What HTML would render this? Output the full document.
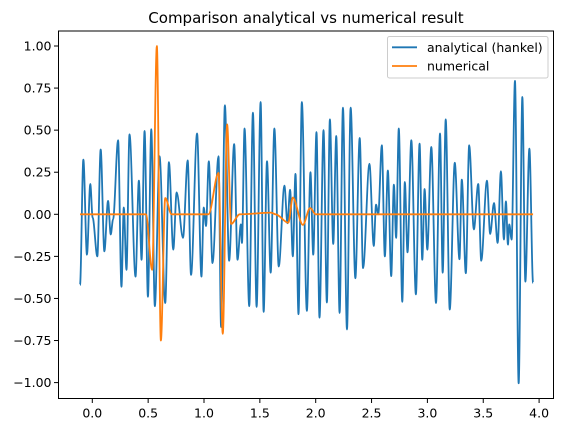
<!DOCTYPE html>
<html><head><meta charset="utf-8"><style>
html,body{margin:0;padding:0;background:#fff;}
svg{display:block;font-family:"DejaVu Sans","Liberation Sans",sans-serif;}
</style></head><body>
<svg id="chart" width="564" height="432" viewBox="0 0 564 432" xmlns="http://www.w3.org/2000/svg">
<rect x="0" y="0" width="564" height="432" fill="#fff"/>
<text x="306" y="23" font-size="15" text-anchor="middle" fill="#000">Comparison analytical vs numerical result</text>
<g id="plot"></g>
<g id="axes"></g>
</svg>
<script>
const xTicks = [0.0,0.5,1.0,1.5,2.0,2.5,3.0,3.5,4.0];
const xTickLabels = ["0.0","0.5","1.0","1.5","2.0","2.5","3.0","3.5","4.0"];
const yTicks = [1,0.75,0.5,0.25,0,-0.25,-0.5,-0.75,-1];
const yTickLabels = ["1.00","0.75","0.50","0.25","0.00","−0.25","−0.50","−0.75","−1.00"];
const analyticalX = [-0.11,-0.08,-0.048,-0.018,0.003,0.045,0.075,0.108,0.141,0.165,0.186,0.231,0.261,0.282,0.306,0.333,0.387,0.417,0.441,0.468,0.498,0.528,0.56,0.602,0.653,0.686,0.725,0.755,0.812,0.854,0.884,0.938,0.977,0.998,1.018,1.043,1.076,1.13,1.153,1.187,1.225,1.27,1.30,1.33,1.34,1.363,1.405,1.438,1.471,1.507,1.534,1.564,1.597,1.63,1.669,1.72,1.747,1.771,1.795,1.819,1.846,1.876,1.921,1.953,1.978,2.007,2.034,2.07,2.10,2.127,2.157,2.184,2.214,2.244,2.28,2.313,2.355,2.394,2.424,2.481,2.52,2.54,2.56,2.592,2.619,2.646,2.676,2.70,2.72,2.744,2.775,2.798,2.822,2.856,2.897,2.93,2.954,2.975,2.999,3.035,3.077,3.113,3.137,3.164,3.20,3.245,3.287,3.308,3.344,3.374,3.416,3.455,3.482,3.533,3.562,3.596,3.629,3.658,3.685,3.703,3.721,3.733,3.754,3.784,3.817,3.85,3.877,3.913,3.946];
const analyticalY = [-0.42,0.325,-0.24,0.18,-0.02,-0.25,0.385,-0.22,0.08,-0.12,-0.03,0.44,-0.43,0.04,-0.33,0.475,-0.37,0.2,-0.27,0.495,-0.49,0.505,-0.546,0.345,-0.527,0.31,-0.21,0.13,-0.14,0.32,-0.36,0.48,-0.37,0.04,-0.07,0.315,-0.29,0.345,-0.67,0.648,-0.276,0.417,-0.27,-0.06,-0.17,0.51,-0.546,0.604,-0.55,0.667,-0.58,0.315,-0.347,0.51,-0.31,0.17,-0.053,0.146,-0.25,0.24,-0.594,0.667,-0.574,0.25,-0.24,0.488,-0.614,0.5,-0.524,0.564,-0.176,0.465,-0.586,0.634,-0.684,0.634,-0.38,0.453,-0.32,0.3,-0.188,0.057,0.0,0.41,-0.25,0.26,-0.367,0.176,-0.14,0.51,-0.52,0.192,-0.226,0.44,-0.476,0.42,-0.27,0.15,-0.21,0.40,-0.527,0.48,-0.347,0.564,-0.566,0.306,-0.267,0.206,-0.35,0.41,-0.09,0.18,-0.276,0.2,-0.117,0.067,-0.17,0.256,-0.15,0.077,-0.18,-0.06,-0.15,0.793,-1.004,0.697,-0.40,0.39,-0.407];
const numericalX = [-0.11,0.48,0.536,0.578,0.614,0.653,0.71,1.04,1.13,1.168,1.207,1.243,1.32,1.60,1.64,1.755,1.795,1.885,1.95,2.0,3.946];
const numericalY = [0,0,-0.33,1.0,-0.75,0.097,0,0,0.246,-0.71,0.534,-0.057,0,0.01,0,-0.05,0.1,-0.063,0.037,0,0];

const L=58.5,R=553.5,T=31,B=398.5;
function sx(v){return 92.3+v*111.7;}
function sy(v){return 214.3-v*168.3;}
const NS="http://www.w3.org/2000/svg";
function mk(tag,attrs,parent){const e=document.createElementNS(NS,tag);for(const k in attrs)e.setAttribute(k,attrs[k]);parent.appendChild(e);return e;}
function pathFor(xs,ys){
  let d="M"+sx(xs[0]).toFixed(2)+","+sy(ys[0]).toFixed(2);
  for(let i=1;i<xs.length;i++){
    const x0=sx(xs[i-1]),y0=sy(ys[i-1]),x1=sx(xs[i]),y1=sy(ys[i]);
    const dx=(x1-x0)/3;
    d+=" C"+(x0+dx).toFixed(2)+","+y0.toFixed(2)+" "+(x1-dx).toFixed(2)+","+y1.toFixed(2)+" "+x1.toFixed(2)+","+y1.toFixed(2);
  }
  return d;
}
const plot=document.getElementById('plot');
const p1=mk('path',{d:pathFor(analyticalX,analyticalY),fill:'none',stroke:'#1f77b4','stroke-width':1.8,'stroke-linejoin':'round'},plot);


const p2=mk('path',{d:pathFor(numericalX,numericalY),fill:'none',stroke:'#ff7f0e','stroke-width':1.8,'stroke-linejoin':'round'},plot);



const axes=document.getElementById('axes');
const frame=mk('rect',{x:L,y:T,width:R-L,height:B-T,fill:'none',stroke:'#000','stroke-width':1},axes);


xTicks.forEach((v,i)=>{
  const x=sx(v);
  mk('line',{x1:x,x2:x,y1:B,y2:B+4.5,stroke:'#000','stroke-width':1},axes);
  const t=mk('text',{x:x,y:B+19,'font-size':12.5,'text-anchor':'middle',fill:'#000'},axes);
  t.textContent=xTickLabels[i];
  
  
});
yTicks.forEach((v,i)=>{
  const y=sy(v);
  mk('line',{x1:L-4.5,x2:L,y1:y,y2:y,stroke:'#000','stroke-width':1},axes);
  const t=mk('text',{x:L-7,y:y+4.5,'font-size':12.5,'text-anchor':'end',fill:'#000'},axes);
  t.textContent=yTickLabels[i];
  
  
});
const lg=mk('g',{},axes);


mk('rect',{x:387.5,y:36.5,width:160.5,height:41.5,rx:2,fill:'#fff','fill-opacity':0.8,stroke:'#ccc','stroke-width':1},lg);
const names=["analytical (hankel)","numerical"],cols=["#1f77b4","#ff7f0e"],ly=[47.3,66];
names.forEach((n,i)=>{
  const e=mk('g',{},lg);
  
  
  mk('line',{x1:392,x2:417,y1:ly[i],y2:ly[i],stroke:cols[i],'stroke-width':1.8},e);
  const t=mk('text',{x:427,y:ly[i]+4.5,'font-size':12.5,fill:'#000'},e);
  t.textContent=n;
});
</script>
</body></html>
